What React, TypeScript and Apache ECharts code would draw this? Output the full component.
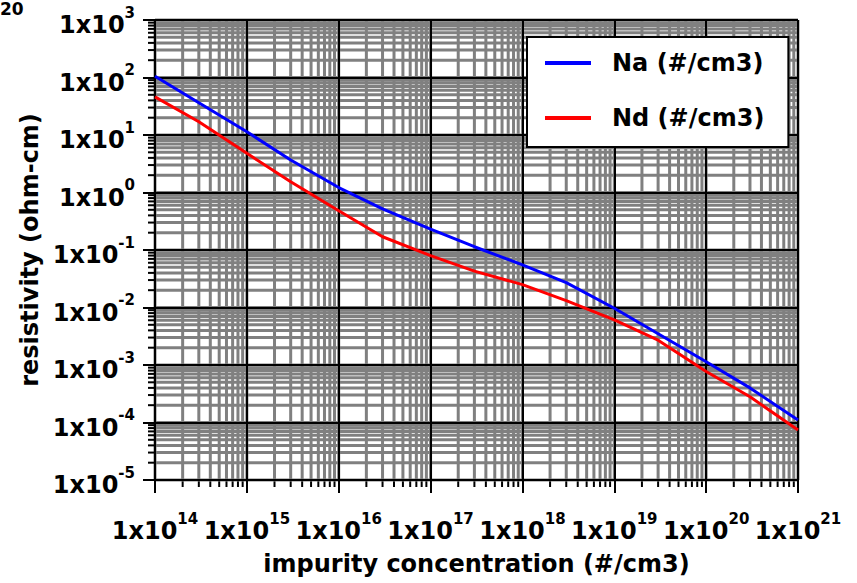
import React, { useEffect, useRef } from "react";
import * as echarts from "echarts";

// axis decades (exponents of 10)
const xDecades = [14, 15, 16, 17, 18, 19, 20, 21];
const yDecades = [-5, -4, -3, -2, -1, 0, 1, 2, 3];
const minorMultipliers = [2, 3, 4, 5, 6, 7, 8, 9];

// data
const concentration = [1e14, 3e14, 1e15, 3e15, 1e16, 3e16, 1e17, 3e17, 1e18, 3e18, 1e19, 3e19, 1e20, 3e20, 1e21];
const naResistivity = [105, 36.5, 11.4, 3.67, 1.22, 0.52, 0.23, 0.114, 0.055, 0.027, 0.0097, 0.0035, 0.00114, 0.0004, 0.00011];
const ndResistivity = [46, 17, 4.8, 1.54, 0.48, 0.17, 0.08, 0.043, 0.025, 0.0132, 0.0061, 0.0027, 0.00077, 0.00028, 0.000074];

const seriesNames = ["Na (#/cm3)", "Nd (#/cm3)"];
const xTitle = "impurity concentration (#/cm3)";
const yTitle = "resistivity (ohm-cm)";
const cornerText = "20";

const FONT = "DejaVu Sans";

function gridValues(decades: number[]) {
  const out: { v: number; major: number }[] = [];
  for (let i = 0; i < decades.length; i++) {
    const base = Math.pow(10, decades[i]);
    out.push({ v: base, major: 1 });
    if (i < decades.length - 1) {
      for (const m of minorMultipliers) out.push({ v: m * base, major: 0 });
    }
  }
  return out;
}

const labelFormatter = (v: number) => {
  const e = Math.round(Math.log10(v));
  return `{a|1x10}{b|${e}}`;
};

const labelRich = {
  a: { fontFamily: FONT, fontWeight: "bold", fontSize: 24, lineHeight: 40, color: "#000" },
  b: { fontFamily: FONT, fontWeight: "bold", fontSize: 15, lineHeight: 16, verticalAlign: "top", color: "#000" },
};

export default function App() {
  const ref = useRef<HTMLDivElement>(null);
  useEffect(() => {
    if (!ref.current) return;
    const chart = echarts.init(ref.current, undefined, { renderer: "svg" });
    const xMin = Math.pow(10, xDecades[0]);
    const xMax = Math.pow(10, xDecades[xDecades.length - 1]);
    const yMin = Math.pow(10, yDecades[0]);
    const yMax = Math.pow(10, yDecades[yDecades.length - 1]);

    const xg = gridValues(xDecades);
    const yg = gridValues(yDecades);

    const option: any = {
      animation: false,
      grid: { left: 155, right: 59, top: 20, bottom: 103, containLabel: false },
      legend: {
        orient: "vertical",
        left: 527,
        top: 37,
        z: 10,
        data: seriesNames,
        backgroundColor: "#fff",
        borderColor: "#000",
        borderWidth: 2,
        padding: [14, 24, 17, 18],
        itemGap: 31,
        itemWidth: 46,
        itemHeight: 4,
        icon: "rect",
        selectedMode: false,
        textStyle: { fontFamily: FONT, fontWeight: "bold", fontSize: 24, color: "#000", padding: [0, 0, 0, 16] },
      },
      xAxis: {
        type: "log",
        logBase: 10,
        min: xMin,
        max: xMax,
        z: 3,
        axisLine: { show: true, onZero: false, lineStyle: { color: "#000", width: 2 } },
        axisTick: { show: true, length: 13, lineStyle: { color: "#000", width: 2 } },
        splitLine: { show: true, lineStyle: { color: "#000", width: 2 } },
        minorTick: { show: false },
        axisLabel: { margin: 31, formatter: labelFormatter, rich: labelRich, showMinLabel: true, showMaxLabel: true },
        name: xTitle,
        nameLocation: "middle",
        nameGap: 72,
        nameTextStyle: { fontFamily: FONT, fontWeight: "bold", fontSize: 24, color: "#000" },
      },
      yAxis: {
        type: "log",
        logBase: 10,
        min: yMin,
        max: yMax,
        z: 3,
        axisLine: { show: true, onZero: false, lineStyle: { color: "#000", width: 2 } },
        axisTick: { show: true, length: 12, lineStyle: { color: "#000", width: 2 } },
        splitLine: { show: true, lineStyle: { color: "#000", width: 2 } },
        minorTick: { show: false },
        axisLabel: { margin: 20, padding: [10, 0, 0, 0], formatter: labelFormatter, rich: labelRich, showMinLabel: true, showMaxLabel: true },
        name: yTitle,
        nameLocation: "middle",
        nameRotate: 90,
        nameGap: 105,
        nameTextStyle: { fontFamily: FONT, fontWeight: "bold", fontSize: 24, color: "#000" },
      },
      graphic: [
        {
          type: "text",
          left: 0,
          top: 0,
          style: { text: cornerText, font: 'bold 17px "DejaVu Sans"', fill: "#000" },
        },
      ],
      series: [
        {
          type: "custom",
          z: 1,
          silent: true,
          clip: false,
          data: xg.map((g) => [g.v, yMin, g.major]),
          renderItem: (params: any, api: any) => {
            const x = api.value(0);
            const major = api.value(2);
            const b = api.coord([x, yMin]);
            const t = api.coord([x, yMax]);
            const children: any[] = [
              { type: "line", shape: { x1: b[0], y1: b[1], x2: t[0], y2: t[1] }, style: { stroke: "#808080", lineWidth: 3 } },
            ];
            if (!major) {
              children.push({ type: "line", shape: { x1: b[0], y1: b[1], x2: b[0], y2: b[1] + 7 }, style: { stroke: "#000", lineWidth: 2 } });
            }
            return { type: "group", children };
          },
        },
        {
          type: "custom",
          z: 1,
          silent: true,
          clip: false,
          data: yg.map((g) => [xMin, g.v, g.major]),
          renderItem: (params: any, api: any) => {
            const y = api.value(1);
            const major = api.value(2);
            const l = api.coord([xMin, y]);
            const r = api.coord([xMax, y]);
            const children: any[] = [
              { type: "line", shape: { x1: l[0], y1: l[1], x2: r[0], y2: r[1] }, style: { stroke: "#808080", lineWidth: 3 } },
            ];
            if (!major) {
              children.push({ type: "line", shape: { x1: l[0], y1: l[1], x2: l[0] - 7, y2: l[1] }, style: { stroke: "#000", lineWidth: 2 } });
            }
            return { type: "group", children };
          },
        },
        {
          name: seriesNames[0],
          type: "line",
          z: 5,
          symbol: "none",
          color: "#0000ff",
          lineStyle: { color: "#0000ff", width: 3 },
          data: concentration.map((x, i) => [x, naResistivity[i]]),
        },
        {
          name: seriesNames[1],
          type: "line",
          z: 5,
          symbol: "none",
          color: "#ff0000",
          lineStyle: { color: "#ff0000", width: 3 },
          data: concentration.map((x, i) => [x, ndResistivity[i]]),
        },
      ],
    };
    chart.setOption(option);
    return () => chart.dispose();
  }, []);
  return <div ref={ref} style={{ position: "fixed", left: 0, top: 0, width: 857, height: 583, background: "#fff" }} />;
}
